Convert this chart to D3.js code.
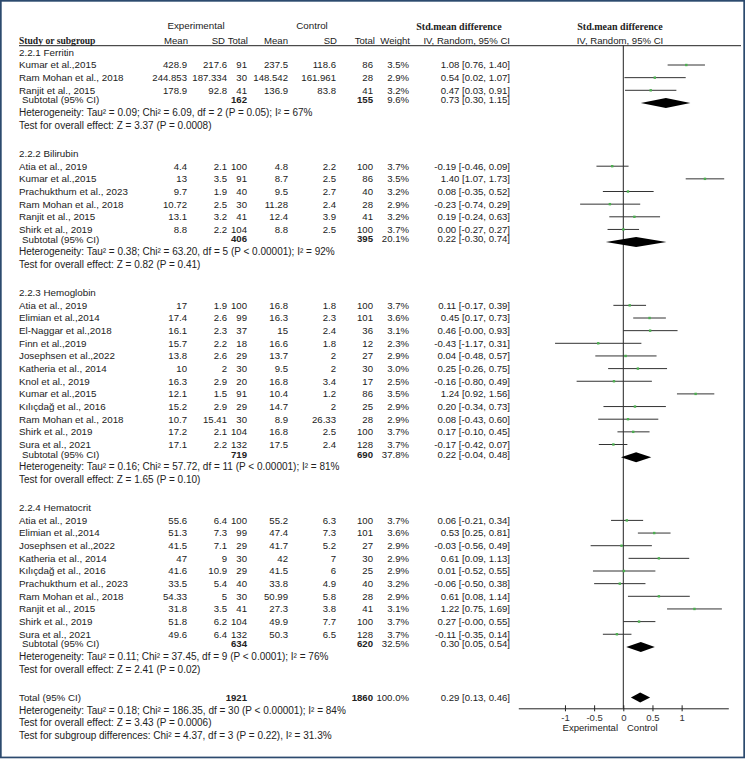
<!DOCTYPE html>
<html><head><meta charset="utf-8">
<script src="https://cdn.jsdelivr.net/npm/d3@7"></script>
<style>body{margin:0;background:#fff}svg{display:block}</style>
</head><body><svg id="c" width="749" height="761"></svg>
<script>
// ---------- DATA ----------
const groupLabels = ["2.2.1 Ferritin", "2.2.2 Bilirubin", "2.2.3 Hemoglobin", "2.2.4 Hematocrit"];
const studyGroup = [0,0,0, 1,1,1,1,1,1, 2,2,2,2,2,2,2,2,2,2,2,2, 3,3,3,3,3,3,3,3,3,3];
const studyNames = [
  "Kumar et al.,2015", "Ram Mohan et al., 2018", "Ranjit et al., 2015",
  "Atia et al., 2019", "Kumar et al.,2015", "Prachukthum et al., 2023", "Ram Mohan et al., 2018", "Ranjit et al., 2015", "Shirk et al., 2019",
  "Atia et al., 2019", "Elimian et al.,2014", "El-Naggar et al.,2018", "Finn et al.,2019", "Josephsen et al.,2022", "Katheria et al., 2014", "Knol et al., 2019", "Kumar et al.,2015", "Kılıçdağ et al., 2016", "Ram Mohan et al., 2018", "Shirk et al., 2019", "Sura et al., 2021",
  "Atia et al., 2019", "Elimian et al.,2014", "Josephsen et al.,2022", "Katheria et al., 2014", "Kılıçdağ et al., 2016", "Prachukthum et al., 2023", "Ram Mohan et al., 2018", "Ranjit et al., 2015", "Shirk et al., 2019", "Sura et al., 2021"
];
const expMean = ["428.9","244.853","178.9", "4.4","13","9.7","10.72","13.1","8.8", "17","17.4","16.1","15.7","13.8","10","16.3","12.1","15.2","10.7","17.2","17.1", "55.6","51.3","41.5","47","41.6","33.5","54.33","31.8","51.8","49.6"];
const expSD   = ["217.6","187.334","92.8", "2.1","3.5","1.9","2.5","3.2","2.2", "1.9","2.6","2.3","2.2","2.6","2","2.9","1.5","2.9","15.41","2.1","2.2", "6.4","7.3","7.1","9","10.9","5.4","5","3.5","6.2","6.4"];
const expN    = [91,30,41, 100,91,40,30,41,104, 100,99,37,18,29,30,20,91,29,30,104,132, 100,99,29,30,29,40,30,41,104,132];
const ctrlMean = ["237.5","148.542","136.9", "4.8","8.7","9.5","11.28","12.4","8.8", "16.8","16.3","15","16.6","13.7","9.5","16.8","10.4","14.7","8.9","16.8","17.5", "55.2","47.4","41.7","42","41.5","33.8","50.99","27.3","49.9","50.3"];
const ctrlSD   = ["118.6","161.961","83.8", "2.2","2.5","2.7","2.4","3.9","2.5", "1.8","2.3","2.4","1.8","2","2","3.4","1.2","2","26.33","2.5","2.4", "6.3","7.3","5.2","7","6","4.9","5.8","3.8","7.7","6.5"];
const ctrlN    = [86,28,41, 100,86,40,28,41,100, 100,101,36,12,27,30,17,86,25,28,100,128, 100,101,27,30,25,40,28,41,100,128];
const weights  = [3.5,2.9,3.2, 3.7,3.5,3.2,2.9,3.2,3.7, 3.7,3.6,3.1,2.3,2.9,3.0,2.5,3.5,2.9,2.9,3.7,3.7, 3.7,3.6,2.9,2.9,2.9,3.2,2.9,3.1,3.7,3.7];
const smd      = [1.08,0.54,0.47, -0.19,1.40,0.08,-0.23,0.19,0.00, 0.11,0.45,0.46,-0.43,0.04,0.25,-0.16,1.24,0.20,0.08,0.17,-0.17, 0.06,0.53,-0.03,0.61,0.01,-0.06,0.61,1.22,0.27,-0.11];
const ciLow    = [0.76,0.02,0.03, -0.46,1.07,-0.35,-0.74,-0.24,-0.27, -0.17,0.17,-0,-1.17,-0.48,-0.26,-0.80,0.92,-0.34,-0.43,-0.10,-0.42, -0.21,0.25,-0.56,0.09,-0.52,-0.50,0.08,0.75,-0,-0.35];
const ciHigh   = [1.40,1.07,0.91, 0.09,1.73,0.52,0.29,0.63,0.27, 0.39,0.73,0.93,0.31,0.57,0.75,0.49,1.56,0.73,0.60,0.45,0.07, 0.34,0.81,0.49,1.13,0.55,0.38,1.14,1.69,0.55,0.14];

const subExpN    = [162, 406, 719, 634];
const subCtrlN   = [155, 395, 690, 620];
const subWeight  = [9.6, 20.1, 37.8, 32.5];
const subSmd     = [0.73, 0.22, 0.22, 0.30];
const subLow     = [0.30, -0.30, -0.04, 0.05];
const subHigh    = [1.15, 0.74, 0.48, 0.54];
const hetTexts = [
  "Heterogeneity: Tau² = 0.09; Chi² = 6.09, df = 2 (P = 0.05); I² = 67%",
  "Heterogeneity: Tau² = 0.38; Chi² = 63.20, df = 5 (P < 0.00001); I² = 92%",
  "Heterogeneity: Tau² = 0.16; Chi² = 57.72, df = 11 (P < 0.00001); I² = 81%",
  "Heterogeneity: Tau² = 0.11; Chi² = 37.45, df = 9 (P < 0.0001); I² = 76%"
];
const testTexts = [
  "Test for overall effect: Z = 3.37 (P = 0.0008)",
  "Test for overall effect: Z = 0.82 (P = 0.41)",
  "Test for overall effect: Z = 1.65 (P = 0.10)",
  "Test for overall effect: Z = 2.41 (P = 0.02)"
];
const totalExpN = 1921, totalCtrlN = 1860, totalWeight = 100.0;
const totalSmd = 0.29, totalLow = 0.13, totalHigh = 0.46;
const totalTexts = [
  "Heterogeneity: Tau² = 0.18; Chi² = 186.35, df = 30 (P < 0.00001); I² = 84%",
  "Test for overall effect: Z = 3.43 (P = 0.0006)",
  "Test for subgroup differences: Chi² = 4.37, df = 3 (P = 0.22), I² = 31.3%"
];
const tickValues = [-1, -0.5, 0, 0.5, 1];
const tickLabels = ["-1", "-0.5", "0", "0.5", "1"];
const favoursLabels = ["Experimental", "Control"];

// ---------- LAYOUT ----------
const svg = d3.select("#c");
const SANS = "'Liberation Sans', Arial, sans-serif";
const SERIF = "'Liberation Serif', 'Times New Roman', serif";
const FS_NUM = 9.6, FS_NAME = 9.8, FS_NOTE = 10;
const TXT = "#222";

const yRow = d3.scaleLinear().domain([0, 1]).range([52.35, 65.0]);
const x = d3.scaleLinear().domain([-1.8, 1.8]).range([518.3, 728.3]);
const axisY = 708.3;
const lift = -3; // subgroup summary rows sit slightly higher

const colX = {name: 19, sub: 22, eMean: 187, eSD: 227, eN: 247, cMean: 288, cSD: 336, cN: 373, w: 409, ci: 510};

const fmt2 = v => ((v < 0 || Object.is(v, -0)) ? "-" : "") + Math.abs(v).toFixed(2);
const ciText = (m, l, h) => `${fmt2(m)} [${fmt2(l)}, ${fmt2(h)}]`;

// border
svg.append("rect").attr("x", 0.85).attr("y", 0.85).attr("width", 743.3).attr("height", 756.6)
  .attr("fill", "none").attr("stroke", "#2c4a6e").attr("stroke-width", 1.7);

function txt(xp, yp, s, opts = {}) {
  return svg.append("text").attr("x", xp).attr("y", yp).attr("dy", "0.35em")
    .attr("font-family", opts.family || SANS).attr("font-size", opts.size || FS_NUM)
    .attr("font-weight", opts.weight || "normal")
    .attr("text-anchor", opts.anchor || "start").attr("fill", TXT).text(s);
}

// headers
txt(196, 26, "Experimental", {anchor: "middle", size: FS_NAME});
txt(312, 26, "Control", {anchor: "middle", size: FS_NAME});
txt(459, 26, "Std.mean difference", {anchor: "middle", family: SERIF, weight: "bold", size: 10});
txt(620, 26, "Std.mean difference", {anchor: "middle", family: SERIF, weight: "bold", size: 10});
const h2 = 40.5;
txt(colX.name, h2, "Study or subgroup", {family: SERIF, weight: "bold", size: 9.6});
txt(colX.eMean + 1, h2, "Mean", {anchor: "end"});
txt(colX.eSD - 2, h2, "SD", {anchor: "end"});
txt(colX.eN + 1, h2, "Total", {anchor: "end"});
txt(colX.cMean, h2, "Mean", {anchor: "end"});
txt(colX.cSD + 1, h2, "SD", {anchor: "end"});
txt(colX.cN + 2, h2, "Total", {anchor: "end"});
txt(colX.w + 1, h2, "Weight", {anchor: "end"});
txt(colX.ci, h2, "IV, Random, 95% CI", {anchor: "end"});
txt(620, h2, "IV, Random, 95% CI", {anchor: "middle"});

svg.append("line").attr("x1", 19).attr("x2", 741).attr("y1", 45.7).attr("y2", 45.7)
  .attr("stroke", "#222").attr("stroke-width", 1);
// zero line
svg.append("line").attr("x1", x(0)).attr("x2", x(0)).attr("y1", 45.7).attr("y2", axisY)
  .attr("stroke", "#222").attr("stroke-width", 1);

// rows
let idx = 0;
const marks = [];
groupLabels.forEach((g, gi) => {
  txt(colX.name, yRow(idx++), g, {size: FS_NAME});
  studyNames.forEach((nm, i) => {
    if (studyGroup[i] !== gi) return;
    const y = yRow(idx++);
    txt(colX.name, y, nm, {size: FS_NAME});
    txt(colX.eMean, y, expMean[i], {anchor: "end"});
    txt(colX.eSD, y, expSD[i], {anchor: "end"});
    txt(colX.eN, y, expN[i], {anchor: "end"});
    txt(colX.cMean, y, ctrlMean[i], {anchor: "end"});
    txt(colX.cSD, y, ctrlSD[i], {anchor: "end"});
    txt(colX.cN, y, ctrlN[i], {anchor: "end"});
    txt(colX.w, y, weights[i].toFixed(1) + "%", {anchor: "end"});
    txt(colX.ci, y, ciText(smd[i], ciLow[i], ciHigh[i]), {anchor: "end"});
    marks.push({type: "study", y, m: smd[i], lo: ciLow[i], hi: ciHigh[i]});
  });
  const ys = yRow(idx++);
  txt(colX.sub, ys + lift, "Subtotal (95% CI)", {size: FS_NAME});
  txt(colX.eN, ys + lift, subExpN[gi], {anchor: "end", weight: "bold"});
  txt(colX.cN, ys + lift, subCtrlN[gi], {anchor: "end", weight: "bold"});
  txt(colX.w, ys + lift, subWeight[gi].toFixed(1) + "%", {anchor: "end"});
  txt(colX.ci, ys + lift, ciText(subSmd[gi], subLow[gi], subHigh[gi]), {anchor: "end"});
  marks.push({type: "diamond", y: ys, m: subSmd[gi], lo: subLow[gi], hi: subHigh[gi]});
  txt(colX.name, yRow(idx++) + lift, hetTexts[gi], {size: FS_NOTE});
  txt(colX.name, yRow(idx++) + lift, testTexts[gi], {size: FS_NOTE});
  idx++; // blank line
});
const yt = yRow(idx++);
txt(colX.name, yt, "Total (95% CI)", {size: FS_NAME});
txt(colX.eN, yt, totalExpN, {anchor: "end", weight: "bold"});
txt(colX.cN, yt, totalCtrlN, {anchor: "end", weight: "bold"});
txt(colX.w, yt, totalWeight.toFixed(1) + "%", {anchor: "end"});
txt(colX.ci, yt, ciText(totalSmd, totalLow, totalHigh), {anchor: "end"});
marks.push({type: "diamond", y: yt, m: totalSmd, lo: totalLow, hi: totalHigh});
totalTexts.forEach(t => txt(colX.name, yRow(idx++), t, {size: FS_NOTE}));

// forest marks
const gM = svg.append("g");
marks.filter(d => d.type === "study").forEach(d => {
  gM.append("line").attr("x1", x(d.lo)).attr("x2", x(d.hi)).attr("y1", d.y).attr("y2", d.y)
    .attr("stroke", "#333").attr("stroke-width", 1);
  gM.append("rect").attr("x", x(d.m) - 1.2).attr("y", d.y - 1.2).attr("width", 2.4).attr("height", 2.4)
    .attr("fill", "#4caf50");
});
marks.filter(d => d.type === "diamond").forEach(d => {
  gM.append("polygon").attr("fill", "#000")
    .attr("points", [[x(d.lo), d.y], [x(d.m), d.y - 5], [x(d.hi), d.y], [x(d.m), d.y + 5]].map(p => p.join(",")).join(" "));
});

// axis
const axis = d3.axisBottom(x).tickValues(tickValues).tickFormat((d, i) => tickLabels[i])
  .tickSizeInner(3).tickSizeOuter(0).tickPadding(2.5);
const gA = svg.append("g").attr("transform", `translate(0,${axisY})`).call(axis);
gA.select(".domain").attr("stroke", "#222");
gA.selectAll(".tick line").attr("stroke", "#222").attr("y1", -3);
gA.selectAll(".tick text").attr("font-family", SANS).attr("font-size", 9.5).attr("fill", "#333");
txt(618, 728, favoursLabels[0], {anchor: "end", size: 9.5});
txt(627, 728, favoursLabels[1], {anchor: "start", size: 9.5});
</script></body></html>
